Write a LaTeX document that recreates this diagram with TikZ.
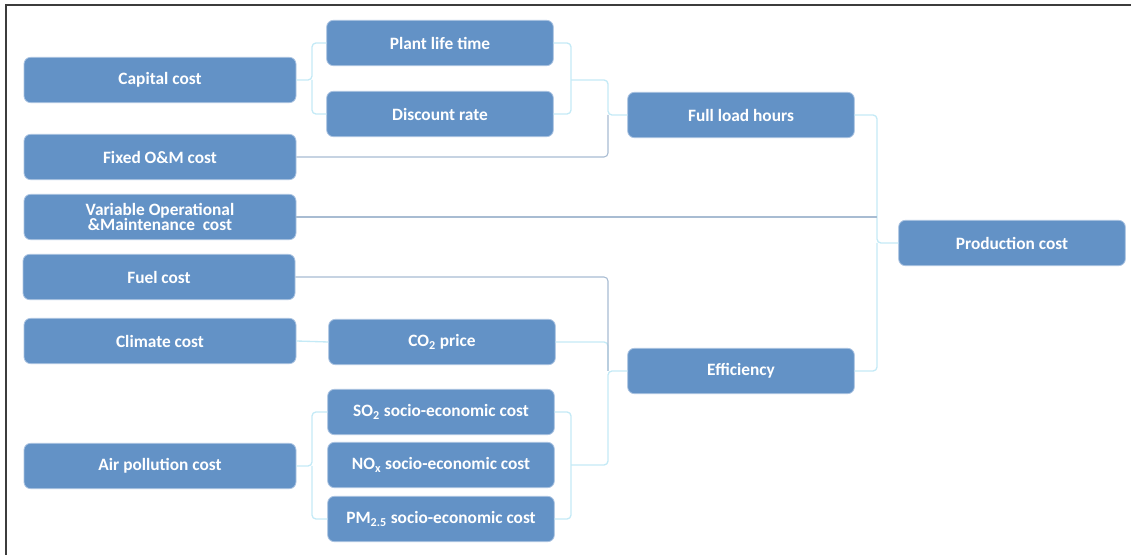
\documentclass[tikz,border=0pt]{standalone}
\usepackage{fontspec}
\setmainfont{Carlito}
\definecolor{boxblue}{RGB}{99,146,198}
\definecolor{boxedge}{RGB}{170,195,225}
\definecolor{linkcyan}{RGB}{196,234,246}
\definecolor{linkgray}{RGB}{168,188,210}
\definecolor{framegray}{RGB}{60,60,60}

\begin{document}
\begin{tikzpicture}[
  x=0.75pt, y=-0.75pt,
  box/.style={draw=boxedge, fill=boxblue, rounded corners=5pt, line width=0.6pt,
    text=white, font=\fontsize{13}{13.5}\selectfont\bfseries, align=center,
    minimum width=170pt, minimum height=34pt, inner sep=1pt},
  widebox/.style={box, minimum width=204pt},
  link/.style={draw=linkcyan, line width=1pt, rounded corners=3pt},
  longlink/.style={draw=linkgray, line width=0.8pt, rounded corners=3pt},
]
  \useasboundingbox (0,0) rectangle (1131,555);
  % frame on top and left
  \draw[framegray, line width=1.5pt] (1131,5) -- (6,5) -- (6,555);

  % left column: cost items
  \node[widebox] (cap)  at (160,80)  {Capital cost};
  \node[widebox] (fix)  at (160,157) {Fixed O\&M cost};
  \node[widebox] (var)  at (160,217) {Variable Operational\\[-2pt]\&Maintenance~~cost};
  \node[widebox] (fuel) at (159,277) {Fuel cost};
  \node[widebox] (clim) at (160,341) {Climate cost};
  \node[widebox] (air)  at (160,466) {Air pollution cost};

  % middle column
  \node[box] (plant) at (440,43)  {Plant life time};
  \node[box] (disc)  at (440,114) {Discount rate};
  \node[box] (co2)   at (442,342) {CO\textsubscript{2} price};
  \node[box] (so2)   at (441,412) {SO\textsubscript{2} socio-economic cost};
  \node[box] (nox)   at (441,465) {NO\textsubscript{x} socio-economic cost};
  \node[box] (pm)    at (441,519) {PM\textsubscript{2.5} socio-economic cost};

  % right side
  \node[box] (flh) at (741,115) {Full load hours};
  \node[box] (eff) at (741,371) {Efficiency};
  \node[box] (pc)  at (1012,243) {Production cost};

  % junctions
  \coordinate (jcap) at (312,80);
  \coordinate (jpd)  at (571,80);
  \coordinate (jflh) at (608,115);
  \coordinate (jair) at (312,466);
  \coordinate (jpol) at (571,465);
  \coordinate (jeff) at (608,371);
  \coordinate (jpc)  at (877,243);

  % full load hours branch
  \draw[link] (cap.east) -- (jcap) |- (plant.west);
  \draw[link] (jcap) |- (disc.west);
  \draw[link] (plant.east) -| (jpd) |- (disc.east);
  \draw[link] (jpd) -| (jflh) -- (flh.west);
  \draw[longlink] (fix.east) -| (jflh);

  % efficiency branch
  \draw[link] (clim.east) -- (co2.west);
  \draw[link] (air.east) -- (jair) |- (so2.west);
  \draw[link] (jair) |- (pm.west);
  \draw[link] (so2.east) -| (jpol) |- (pm.east);
  \draw[link] (jpol) -| (jeff) -- (eff.west);
  \draw[link] (co2.east) -| (jeff);
  \draw[longlink] (fuel.east) -| (jeff);

  % production cost
  \draw[link] (flh.east) -| (jpc) -- (pc.west);
  \draw[link] (eff.east) -| (jpc);
  \draw[longlink] (var.east) -- (var.east -| jpc);
\end{tikzpicture}
\end{document}
